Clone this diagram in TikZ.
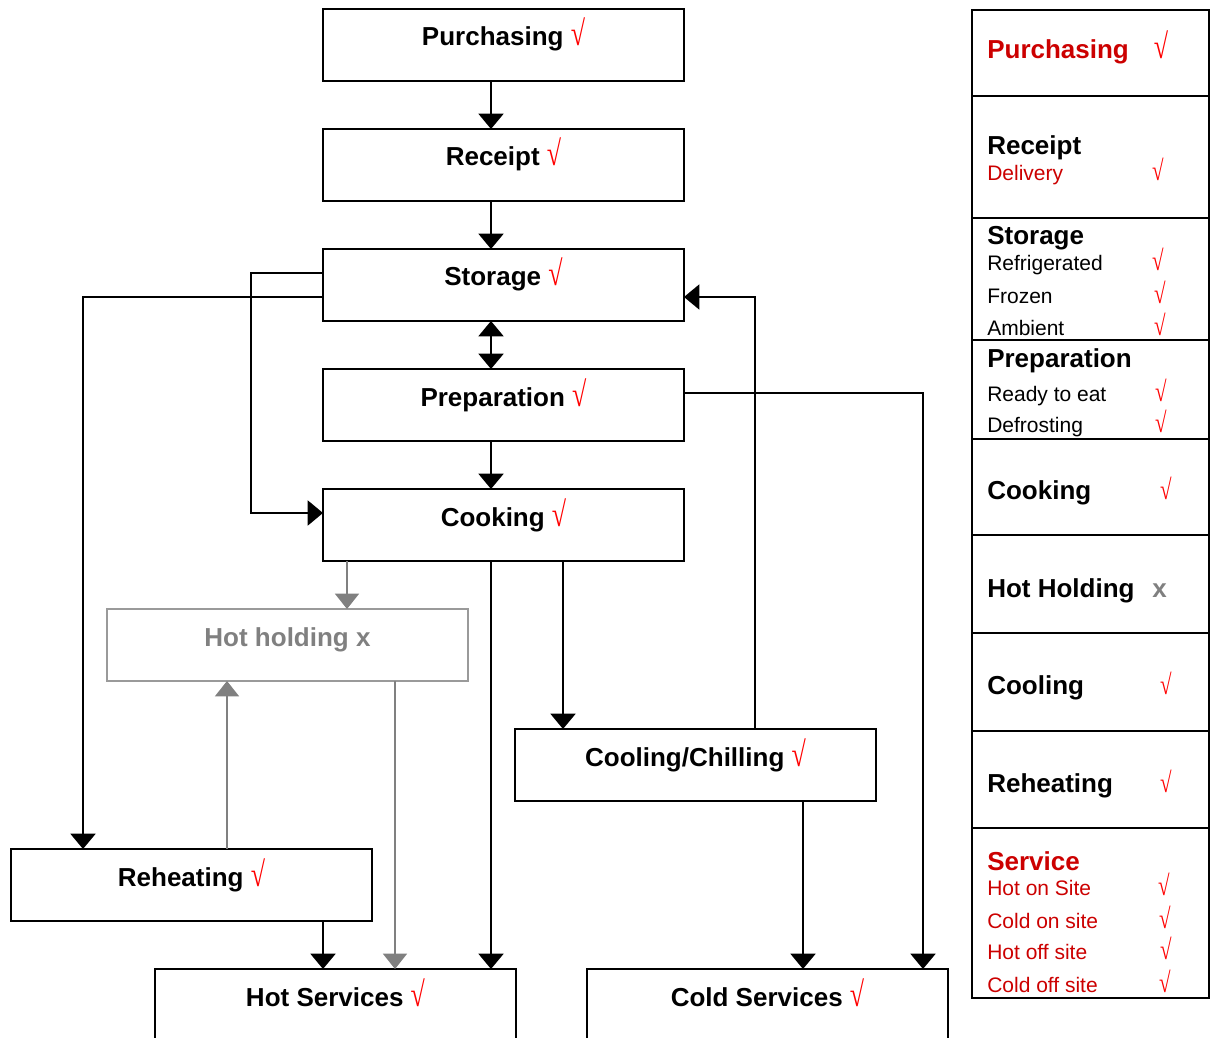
\documentclass[tikz,border=0pt]{standalone}
\usepackage{fontspec}
\usepackage{graphicx}
\setmainfont{Liberation Sans}
\newfontfamily\serf{Liberation Serif}
\usetikzlibrary{arrows.meta}
\definecolor{tickred}{HTML}{FF0000}
\definecolor{dred}{HTML}{CC0000}
\definecolor{gr}{HTML}{808080}
\definecolor{grb}{HTML}{9A9A9A}
\newcommand\bigf{\fontsize{19.5}{23}\selectfont}
\newcommand\regf{\fontsize{15.75}{19}\selectfont}
\newcommand\tk{{\serf\mdseries\color{tickred}\scalebox{1}[1.35]{√}}}
\begin{document}
\begin{tikzpicture}[x=0.75pt,y=-0.75pt,
  box/.style={draw, line width=1.5pt, minimum width=270.75pt, minimum height=54pt, inner sep=0pt, outer sep=0pt},
  gbox/.style={box, draw=grb, line width=1.2pt},
  lbl/.style={anchor=base, inner sep=0pt, font=\bigf\bfseries},
  arr/.style={draw, line width=1.5pt, -{Triangle[width=18.75pt,length=11.5pt]}},
  darr/.style={draw, line width=1.5pt, {Triangle[width=18.75pt,length=11.5pt]}-{Triangle[width=18.75pt,length=11.5pt]}},
  garr/.style={draw=gr, line width=1.1pt, -{Triangle[width=18pt,length=11.5pt]}},
  tline/.style={draw, line width=1.5pt},
  tb/.style={anchor=base west, inner sep=0pt, font=\bigf\bfseries},
  tr/.style={anchor=base west, inner sep=0pt, font=\regf},
  tkb/.style={anchor=base, inner sep=0pt, font=\bigf},
  tkr/.style={anchor=base, inner sep=0pt, font=\regf}
]
\clip (0,0) rectangle (1211,1038);
\fill[white] (0,0) rectangle (1211,1038);

% flow boxes
\node[box] (purch) at (503.5,45) {};
\node[box] (rec) at (503.5,165) {};
\node[box] (stor) at (503.5,285) {};
\node[box] (prep) at (503.5,405) {};
\node[box] (cook) at (503.5,525) {};
\node[gbox] (hh) at (287.5,645) {};
\node[box] (cool) at (695.5,765) {};
\node[box] (reh) at (191.5,885) {};
\node[box] (hot) at (335.5,1005) {};
\node[box] (cold) at (767.5,1005) {};

\node[lbl] (purchT) at ([yshift=-27.75pt]purch.north) {Purchasing \tk};
\node[lbl] (recT) at ([yshift=-27.75pt]rec.north) {Receipt \tk};
\node[lbl] (storT) at ([yshift=-27.75pt]stor.north) {Storage \tk};
\node[lbl] (prepT) at ([yshift=-27.75pt]prep.north) {Preparation \tk};
\node[lbl] (cookT) at ([yshift=-27.75pt]cook.north) {Cooking \tk};
\node[lbl, text=gr] (hhT) at ([yshift=-27.75pt]hh.north) {Hot holding x};
\node[lbl] (coolT) at ([yshift=-27.75pt]cool.north) {Cooling/Chilling \tk};
\node[lbl] (rehT) at ([yshift=-27.75pt]reh.north) {Reheating \tk};
\node[lbl] (hotT) at ([yshift=-27.75pt]hot.north) {Hot Services \tk};
\node[lbl] (coldT) at ([yshift=-27.75pt]cold.north) {Cold Services \tk};

% column coordinates
\coordinate (xa) at (491,0);
\coordinate (xf) at (347,0);
\coordinate (xg) at (563,0);
\coordinate (xh) at (227,0);
\coordinate (xi) at (395,0);
\coordinate (xj) at (323,0);
\coordinate (xk) at (803,0);
\coordinate (k1) at (251,273);
\coordinate (k2) at (251,513);
\coordinate (k3) at (83,297);
\coordinate (k4) at (755,297);
\coordinate (k5) at (923,393);

% connectors
\draw[arr] (purch.south -| xa) -- (rec.north -| xa);
\draw[arr] (rec.south -| xa) -- (stor.north -| xa);
\draw[darr] (stor.south -| xa) -- (prep.north -| xa);
\draw[arr] (prep.south -| xa) -- (cook.north -| xa);
\draw[arr] (stor.west |- k1) -- (k1) -- (k2) -- (cook.west |- k2);
\draw[arr] (stor.west |- k3) -- (k3) -- (reh.north -| k3);
\draw[arr] (cool.north -| k4) -- (k4) -- (stor.east |- k4);
\draw[arr] (prep.east |- k5) -- (k5) -- (cold.north -| k5);
\draw[garr] (cook.south -| xf) -- (hh.north -| xf);
\draw[arr] (cook.south -| xa) -- (hot.north -| xa);
\draw[arr] (cook.south -| xg) -- (cool.north -| xg);
\draw[garr] (reh.north -| xh) -- (hh.south -| xh);
\draw[garr] (hh.south -| xi) -- (hot.north -| xi);
\draw[arr] (reh.south -| xj) -- (hot.north -| xj);
\draw[arr] (cool.south -| xk) -- (cold.north -| xk);

% table
\draw[tline] (972,10) rectangle (1209,998);
\foreach \yy in {96,218,340,439,535,632.5,731,828}
  \draw[tline] (972,\yy) -- (1209,\yy);

\node[tb, text=dred] (t1) at (987,59) {Purchasing};
\node[tkb] (c1) at (1161,59) {\tk};
\node[tb] (t2) at (987,155) {Receipt};
\node[tr, text=dred] (t3) at (987,181) {Delivery};
\node[tkr] (c3) at (1158,181) {\tk};
\node[tb] (t4) at (987,245) {Storage};
\node[tr] (t5) at (987,271) {Refrigerated};
\node[tkr] (c5) at (1158,271) {\tk};
\node[tr] (t6) at (987,303) {Frozen};
\node[tkr] (c6) at (1160,303) {\tk};
\node[tr] (t7) at (987,335) {Ambient};
\node[tkr] (c7) at (1160,335) {\tk};
\node[tb] (t8) at (987,367) {Preparation};
\node[tr] (t9) at (987,401) {Ready to eat};
\node[tkr] (c9) at (1161,401) {\tk};
\node[tr] (t10) at (987,432) {Defrosting};
\node[tkr] (c10) at (1161,432) {\tk};
\node[tb] (t11) at (987,499) {Cooking};
\node[tkr] (c11) at (1166,499) {\tk};
\node[tb] (t12) at (987,597) {Hot Holding};
\node[tkb, text=gr] (c12) at (1159.5,597) {\bfseries x};
\node[tb] (t13) at (987,694) {Cooling};
\node[tkr] (c13) at (1166,694) {\tk};
\node[tb] (t14) at (987,792) {Reheating};
\node[tkr] (c14) at (1166,792) {\tk};
\node[tb, text=dred] (t15) at (987,870) {Service};
\node[tr, text=dred] (t16) at (987,895) {Hot on Site};
\node[tkr] (c16) at (1164,895) {\tk};
\node[tr, text=dred] (t17) at (987,928) {Cold on site};
\node[tkr] (c17) at (1165,928) {\tk};
\node[tr, text=dred] (t18) at (987,959) {Hot off site};
\node[tkr] (c18) at (1166,959) {\tk};
\node[tr, text=dred] (t19) at (987,992) {Cold off site};
\node[tkr] (c19) at (1165,992) {\tk};
\end{tikzpicture}
\end{document}
